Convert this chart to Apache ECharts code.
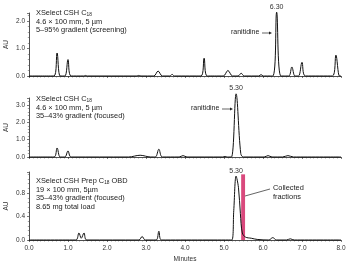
<!DOCTYPE html>
<html><head><meta charset="utf-8">
<script src="https://cdn.jsdelivr.net/npm/echarts@6/dist/echarts.min.js"></script>
<style>html,body{margin:0;padding:0;background:#fff}#c{width:350px;height:266px}</style>
</head><body><div id="c"></div>
<script>
// Retention time (minutes) and absorbance (AU) points
var screeningTrace = [[0,0],[0.64,0],[0.72,0.84],[0.80,0],[0.92,0],[1.0,0.6],[1.08,0],[1.40,0],[1.45,0.02],[1.50,0],[2.75,0],[2.81,0.02],[2.87,0],[3.20,0],[3.31,0.18],[3.42,0],[3.61,0],[3.67,0.06],[3.73,0],[4.41,0],[4.49,0.65],[4.57,0],[4.98,0],[5.10,0.2],[5.22,0],[5.36,0],[5.44,0.1],[5.52,0],[5.89,0],[5.95,0.05],[6.01,0],[6.25,0],[6.35,2.33],[6.46,0],[6.66,0],[6.74,0.33],[6.82,0],[6.91,0],[7.0,0.5],[7.09,0],[7.78,0],[7.87,0.76],[7.96,0],[8,0]];
var focusedTrace = [[0,0],[0.64,0],[0.72,0.52],[0.80,0],[0.92,0],[1.0,0.35],[1.08,0],[2.55,0],[2.85,0.1],[3.12,0],[3.24,0],[3.33,0.45],[3.42,0],[3.85,0],[3.95,0.08],[4.05,0],[4.97,0],[5.03,0.03],[5.09,0],[5.19,0],[5.31,3.64],[5.43,0.2],[5.5,0],[6.03,0],[6.13,0.08],[6.23,0],[6.5,0],[6.64,0.08],[6.78,0],[8,0]];
var prepTrace = [[0,0],[1.2,0],[1.28,0.12],[1.34,0.03],[1.41,0.12],[1.48,0],[2.82,0],[2.9,0.06],[2.98,0],[3.26,0],[3.33,0.15],[3.40,0],[5.2,0],[5.25,0.5],[5.31,1.09],[5.37,0.9],[5.42,0.45],[5.47,0.12],[5.55,0.05],[5.7,0.03],[5.85,0.01],[6.15,0],[6.25,0.04],[6.35,0],[6.6,0],[6.7,0.02],[6.8,0],[8,0]];
var fractionWindow = [5.44, 5.54];
var fractionTop = 1.12;
var peakLabels = [{panel:0, t:6.35, v:2.33, text:'6.30'},{panel:1, t:5.31, v:3.64, text:'5.30'},{panel:2, t:5.31, v:1.09, text:'5.30'}];
var xTicks = [0,1,2,3,4,5,6,7,8];
var yMax = [2.3, 3.4, 1.16];
var yInterval = [1, 1, 0.4];
var panelTitles = [
  ['XSelect CSH C{s|18}','4.6 \u00d7 100 mm, 5 \u00b5m','5\u201395% gradient (screening)'],
  ['XSelect CSH C{s|18}','4.6 \u00d7 100 mm, 5 \u00b5m','35\u201343% gradient (focused)'],
  ['XSelect CSH Prep C{s|18} OBD','19 \u00d7 100 mm, 5\u00b5m','35\u201343% gradient (focused)','8.65 mg total load']
];

var FONT = 'Liberation Sans, Arial, Helvetica, sans-serif';
var grids = [
  {left:29, top:13, width:312, height:63, outerBoundsMode:'none', containLabel:false},
  {left:29, top:98, width:312, height:59, outerBoundsMode:'none', containLabel:false},
  {left:29, top:172, width:312, height:68, outerBoundsMode:'none', containLabel:false}
];
var traces = [screeningTrace, focusedTrace, prepTrace];
var xAxes = [], yAxes = [], series = [];
for (var i=0;i<3;i++){
  xAxes.push({gridIndex:i, type:'value', min:0, max:8, interval:1,
    axisLine:{lineStyle:{color:'#222', width:0.8}},
    axisTick:{show:true, length:2, lineStyle:{color:'#222', width:0.6}},
    minorTick:{show:true, splitNumber:10, length:1.5, lineStyle:{color:'#444', width:0.5}},
    splitLine:{show:false},
    axisLabel:{show:i===2, fontSize:6.5, color:'#333', fontFamily:FONT, margin:5, formatter:function(v){return v.toFixed(1);}},
    name:i===2?'Minutes':'', nameLocation:'middle', nameGap:16, nameMoveOverlap:false, nameTextStyle:{fontSize:6.5, color:'#333', fontFamily:FONT}
  });
  yAxes.push({gridIndex:i, type:'value', min:0, max:yMax[i], interval:yInterval[i],
    axisLine:{show:true, lineStyle:{color:'#222', width:0.8}},
    axisTick:{show:true, length:2, lineStyle:{color:'#222', width:0.6}},
    minorTick:{show:true, splitNumber:5, length:1.2, lineStyle:{color:'#444', width:0.5}},
    splitLine:{show:false},
    axisLabel:{fontSize:6.5, color:'#333', fontFamily:FONT, margin:4, showMaxLabel:false, formatter:function(v){return v.toFixed(1);}},
    name:'AU', nameLocation:'middle', nameGap:19, nameRotate:90, nameMoveOverlap:false, nameTextStyle:{fontSize:6.5, color:'#333', fontFamily:FONT}
  });
  var s = {type:'line', xAxisIndex:i, yAxisIndex:i, data:traces[i], symbol:'none', smooth:0.35, clip:false,
    lineStyle:{color:'#111', width:1}, animation:false, z:3};
  if (i===2){
    s.markArea = {silent:true, animation:false, itemStyle:{color:'#d5356f', opacity:0.9},
      data:[[{coord:[fractionWindow[0],0]},{coord:[fractionWindow[1],fractionTop]}]]};
  }
  series.push(s);
}

var graphics = [];
var titleTops = [14, 100, 182];
for (var i=0;i<3;i++){
  panelTitles[i].forEach(function(t, k){
    graphics.push({type:'text', left:36, top:titleTops[i]-4.5 + k*8.7, style:{text:t, font:'7.4px '+FONT, fill:'#222',
      rich:{s:{fontSize:4.8, fontFamily:FONT, fill:'#222', verticalAlign:'bottom', padding:[3,0,0,0]}}}});
  });
}
function arrow(x1,y1,x2,y2){
  var ang=Math.atan2(y2-y1,x2-x1), L=3, W=1.5;
  var bx=x2-L*Math.cos(ang), by=y2-L*Math.sin(ang);
  graphics.push({type:'line', shape:{x1:x1,y1:y1,x2:bx,y2:by}, style:{stroke:'#222', lineWidth:0.7}});
  graphics.push({type:'polygon', shape:{points:[[x2,y2],[bx-W*Math.sin(ang),by+W*Math.cos(ang)],[bx+W*Math.sin(ang),by-W*Math.cos(ang)]]}, style:{fill:'#222'}});
}
graphics.push({type:'text', left:231, top:29, style:{text:'ranitidine', font:'7px '+FONT, fill:'#222'}});
arrow(262,33,272,33);
graphics.push({type:'text', left:191, top:105, style:{text:'ranitidine', font:'7px '+FONT, fill:'#222'}});
arrow(222,109,233,109);
graphics.push({type:'text', left:273, top:183, style:{text:'Collected\nfractions', font:'7.4px '+FONT, fill:'#222', lineHeight:9}});
graphics.push({type:'line', shape:{x1:270,y1:189,x2:245,y2:196}, style:{stroke:'#222', lineWidth:0.7}});

var chart = echarts.init(document.getElementById('c'), null, {renderer:'canvas'});
chart.setOption({animation:false, grid:grids, xAxis:xAxes, yAxis:yAxes, series:series, graphic:graphics});
// peak retention-time labels placed through the axes' own scales
peakLabels.forEach(function(p){
  var px = chart.convertToPixel({gridIndex:p.panel}, [p.t, p.v]);
  graphics.push({type:'text', x:px[0], y:px[1]-2, style:{text:p.text, font:'7px '+FONT, fill:'#333', textAlign:'center', textVerticalAlign:'bottom'}});
});
chart.setOption({graphic:graphics});
</script></body></html>
